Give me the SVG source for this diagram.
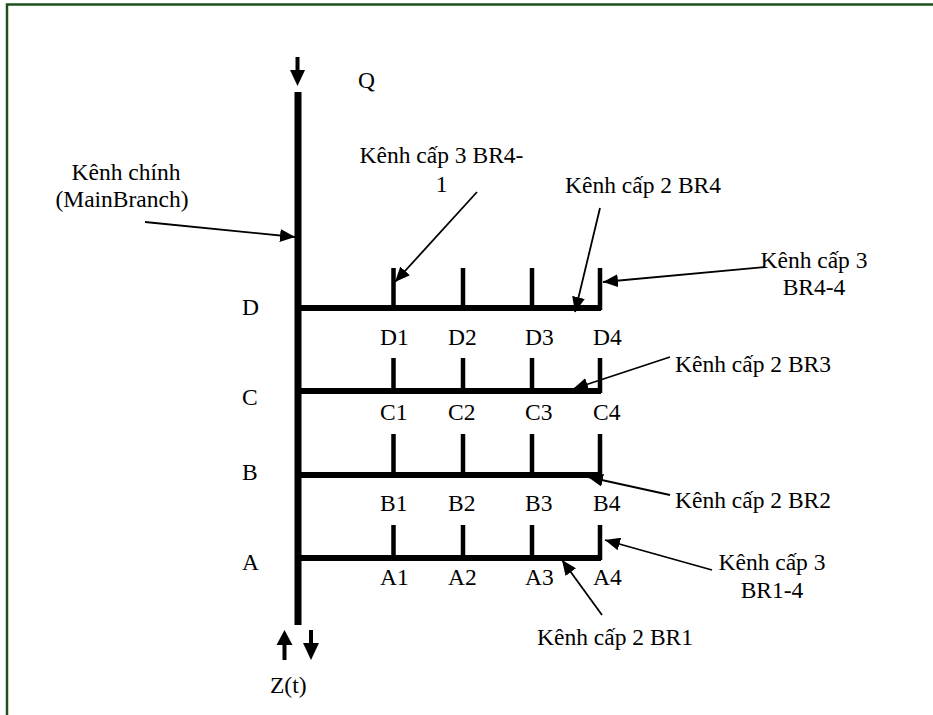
<svg xmlns="http://www.w3.org/2000/svg" width="933" height="715" viewBox="0 0 933 715">
  <defs>
    <style>
      .t { font-family: "Liberation Serif", "Times New Roman", serif; font-size: 23.5px; fill: #000; }
      .m { text-anchor: middle; }
      .bar { stroke: #000; stroke-width: 7; fill: none; }
      .hbar { stroke: #000; stroke-width: 6; fill: none; }
      .tooth { stroke: #000; stroke-width: 4.5; fill: none; }
      .lead { stroke: #000; stroke-width: 1.8; fill: none; marker-end: url(#head); }
      .flow { stroke: #000; stroke-width: 4; fill: none; }
    </style>
    <marker id="head" markerUnits="userSpaceOnUse" markerWidth="15" markerHeight="13" refX="15" refY="6.5" orient="auto">
      <path d="M0,0 L15,6.5 L0,13 z" fill="#000"/>
    </marker>
  </defs>

  <rect x="0" y="0" width="933" height="715" fill="#fff"/>
  <!-- frame -->
  <path d="M7,720 L7,4.5 L940,4.5" fill="none" stroke="#1f4f1f" stroke-width="2.5"/>

  <!-- main channel -->
  <g id="main-channel">
    <line class="bar" x1="298" y1="92" x2="298" y2="625"/>
    <line class="flow" x1="297.5" y1="57" x2="297.5" y2="72"/>
    <path d="M290,70 L305,70 L297.5,86 z" fill="#000"/>
    <text class="t" x="358" y="88">Q</text>
    <line class="flow" x1="284.5" y1="642" x2="284.5" y2="660"/>
    <path d="M276.5,645 L292.5,645 L284.5,630 z" fill="#000"/>
    <line class="flow" x1="311" y1="630" x2="311" y2="646"/>
    <path d="M303,643 L319,643 L311,660 z" fill="#000"/>
    <text class="t" x="270" y="693">Z(t)</text>
  </g>

  <!-- branch D -->
  <g id="branch-D">
    <path class="hbar" d="M298,308 L601,308"/>
    <path class="tooth" d="M393.5,268 V308 M463,268 V308 M532,268 V308 M600,268 V310"/>
    <text class="t" x="242" y="315">D</text>
    <text class="t" x="380" y="345">D1</text>
    <text class="t" x="448" y="345">D2</text>
    <text class="t" x="525" y="345">D3</text>
    <text class="t" x="593" y="345">D4</text>
  </g>

  <!-- branch C -->
  <g id="branch-C">
    <path class="hbar" d="M298,391 L601,391"/>
    <path class="tooth" d="M393.5,358 V391 M463,358 V391 M532,358 V391 M600,358 V393"/>
    <text class="t" x="242" y="405">C</text>
    <text class="t" x="380" y="420">C1</text>
    <text class="t" x="448" y="420">C2</text>
    <text class="t" x="525" y="420">C3</text>
    <text class="t" x="593" y="420">C4</text>
  </g>

  <!-- branch B -->
  <g id="branch-B">
    <path class="hbar" d="M298,475 L601,475"/>
    <path class="tooth" d="M393.5,434 V475 M463,434 V475 M532,434 V475 M600,434 V477"/>
    <text class="t" x="242" y="480">B</text>
    <text class="t" x="380" y="511">B1</text>
    <text class="t" x="448" y="511">B2</text>
    <text class="t" x="525" y="511">B3</text>
    <text class="t" x="593" y="511">B4</text>
  </g>

  <!-- branch A -->
  <g id="branch-A">
    <path class="hbar" d="M298,558 L601,558"/>
    <path class="tooth" d="M393.5,525 V558 M463,525 V558 M532,525 V558 M600,525 V560"/>
    <text class="t" x="242" y="570">A</text>
    <text class="t" x="380" y="585">A1</text>
    <text class="t" x="448" y="585">A2</text>
    <text class="t" x="525" y="585">A3</text>
    <text class="t" x="593" y="585">A4</text>
  </g>

  <!-- callout labels -->
  <g id="label-main">
    <text class="t m" x="126" y="180">Kênh chính</text>
    <text class="t m" x="122" y="207">(MainBranch)</text>
  </g>
  <g id="label-br4-1">
    <text class="t m" x="441.5" y="163">Kênh cấp 3 BR4-</text>
    <text class="t m" x="441.5" y="192">1</text>
  </g>
  <g id="label-br4">
    <text class="t" x="565" y="193">Kênh cấp 2 BR4</text>
  </g>
  <g id="label-br4-4">
    <text class="t m" x="814" y="268">Kênh cấp 3</text>
    <text class="t m" x="814" y="295">BR4-4</text>
  </g>
  <g id="label-br3">
    <text class="t" x="675" y="372">Kênh cấp 2 BR3</text>
  </g>
  <g id="label-br2">
    <text class="t" x="675" y="508">Kênh cấp 2 BR2</text>
  </g>
  <g id="label-br1-4">
    <text class="t m" x="772" y="570">Kênh cấp 3</text>
    <text class="t m" x="772" y="598">BR1-4</text>
  </g>
  <g id="label-br1">
    <text class="t" x="537" y="645">Kênh cấp 2 BR1</text>
  </g>

  <!-- leader arrows -->
  <g id="connectors">
    <line class="lead" x1="145" y1="222" x2="295" y2="237"/>
    <line class="lead" x1="477" y1="192" x2="395" y2="282"/>
    <line class="lead" x1="600" y1="208" x2="575" y2="312"/>
    <line class="lead" x1="765" y1="267" x2="603" y2="282"/>
    <line class="lead" x1="670" y1="357" x2="573" y2="389"/>
    <line class="lead" x1="670" y1="495" x2="588" y2="477"/>
    <line class="lead" x1="712" y1="570" x2="605" y2="540"/>
    <line class="lead" x1="602" y1="615" x2="562" y2="560"/>
  </g>
</svg>
